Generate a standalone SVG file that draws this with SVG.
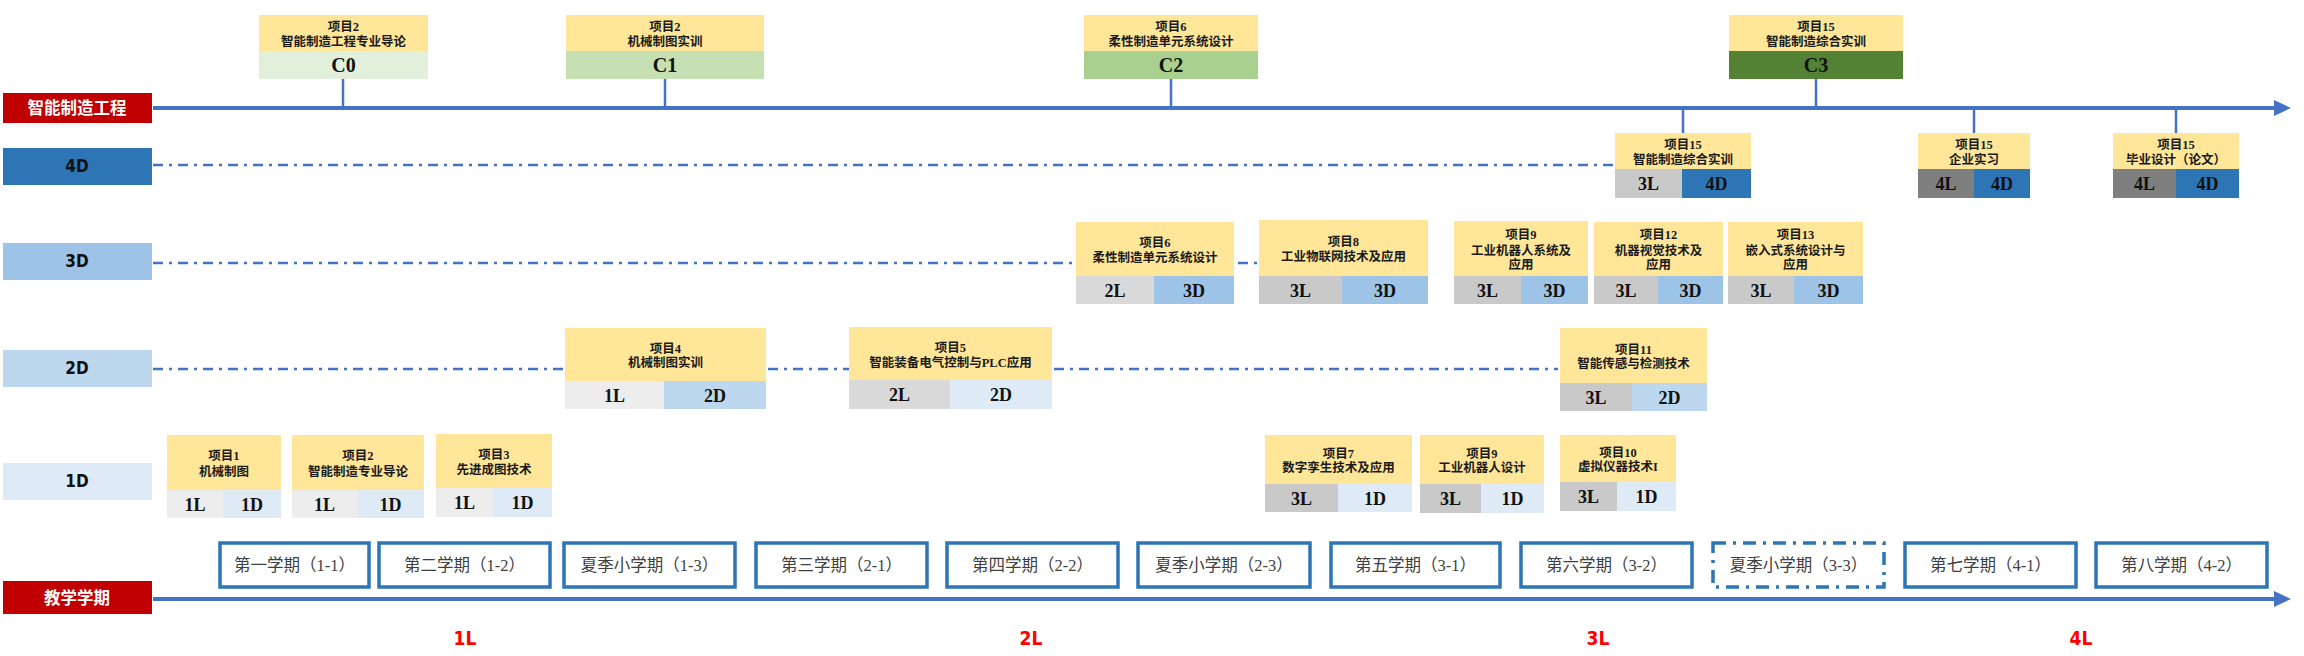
<svg xmlns="http://www.w3.org/2000/svg" width="2304" height="656" viewBox="0 0 2304 656">
<style>
.bg{fill:#ffffff}
.y{fill:#FFE699}
.c0{fill:#E2EFDA}.c1{fill:#C6E0B4}.c2{fill:#A9D08E}.c3{fill:#548235}
.l1{fill:#EDEDED}.l2{fill:#D9D9D9}.l3{fill:#C9C9C9}.l4{fill:#7F7F7F}
.d1{fill:#DEEBF7}.d2{fill:#BDD7EE}.d3{fill:#9DC3E6}.d4{fill:#2E75B6}
.red{fill:#C00000}
.t{font-family:"Liberation Serif","Noto Sans CJK SC",serif;font-weight:bold;font-size:12.5px;fill:#1a1a1a;text-anchor:middle}
.cell{font-family:"Liberation Serif","Noto Sans CJK SC",serif;font-weight:bold;font-size:18px;fill:#111;text-anchor:middle}
.cl{font-family:"Liberation Serif",serif;font-weight:bold;font-size:20px;fill:#111;text-anchor:middle}
.rl{font-family:"Liberation Sans Narrow","DejaVu Sans Condensed","Liberation Sans",sans-serif;font-weight:bold;font-size:17px;fill:#111;text-anchor:middle}
.wl{font-family:"Noto Sans CJK SC","Liberation Sans",sans-serif;font-weight:bold;font-size:16.5px;fill:#ffffff;text-anchor:middle}
.sem{fill:#ffffff;stroke:#2E75B6;stroke-width:3.5}
.semd{fill:#ffffff;stroke:#2E75B6;stroke-width:3.5;stroke-dasharray:13 7 3 7}
.st{font-family:"Liberation Serif","Noto Sans CJK SC",serif;font-size:16.5px;fill:#404040;text-anchor:middle}
.lv{font-family:"Liberation Sans Narrow","DejaVu Sans Condensed","Liberation Sans",sans-serif;font-weight:bold;font-size:19px;fill:#FF0000;text-anchor:middle}
.axis{stroke:#4472C4;stroke-width:4;fill:none}
.stem{stroke:#4472C4;stroke-width:2.5;fill:none}
.dash{stroke:#4472C4;stroke-width:2.5;fill:none;stroke-dasharray:10 6 3 6}
</style>
<defs>
<marker id="arr" markerWidth="18" markerHeight="16" refX="2" refY="8" orient="auto" markerUnits="userSpaceOnUse">
<path d="M0,0 L17,8 L0,16 z" fill="#4472C4"/>
</marker>
</defs>
<rect class="bg" x="0" y="0" width="2304" height="656"/>

<g id="connectors">
<line class="axis" x1="153" y1="108" x2="2276" y2="108" marker-end="url(#arr)"/>
<line class="axis" x1="153" y1="599" x2="2276" y2="599" marker-end="url(#arr)"/>
<line class="stem" x1="343" y1="79" x2="343" y2="108"/>
<line class="stem" x1="665" y1="79" x2="665" y2="108"/>
<line class="stem" x1="1171" y1="79" x2="1171" y2="108"/>
<line class="stem" x1="1816" y1="79" x2="1816" y2="108"/>
<line class="stem" x1="1683" y1="108" x2="1683" y2="133"/>
<line class="stem" x1="1974" y1="108" x2="1974" y2="133"/>
<line class="stem" x1="2176" y1="108" x2="2176" y2="133"/>
<line class="dash" x1="153" y1="165" x2="1615" y2="165"/>
<line class="dash" x1="153" y1="263" x2="1076" y2="263"/>
<line class="dash" x1="1238" y1="263" x2="1259" y2="263"/>
<line class="dash" x1="153" y1="369" x2="565" y2="369"/>
<line class="dash" x1="768" y1="369" x2="849" y2="369"/>
<line class="dash" x1="1054" y1="369" x2="1558" y2="369"/>
</g>

<g id="row-labels">
<g id="lbl-major"><rect class="red" x="3" y="93" width="149" height="30"/><text class="wl" x="77" y="114">智能制造工程</text></g>
<g id="lbl-4D"><rect class="d4" x="3" y="148" width="149" height="37"/><text class="rl" x="77" y="172">4D</text></g>
<g id="lbl-3D"><rect class="d3" x="3" y="243" width="149" height="37"/><text class="rl" x="77" y="267">3D</text></g>
<g id="lbl-2D"><rect class="d2" x="3" y="350" width="149" height="37"/><text class="rl" x="77" y="374">2D</text></g>
<g id="lbl-1D"><rect class="d1" x="3" y="463" width="149" height="37"/><text class="rl" x="77" y="487">1D</text></g>
<g id="lbl-term"><rect class="red" x="3" y="581" width="149" height="33"/><text class="wl" x="77" y="604">教学学期</text></g>
</g>

<g id="top-cards">
<g id="C0"><rect class="y" x="259" y="15" width="169" height="36"/><rect class="c0" x="259" y="51" width="169" height="28"/>
<text class="t" x="343.5" y="30.5">项目2</text><text class="t" x="343.5" y="46">智能制造工程专业导论</text><text class="cl" x="343.5" y="72">C0</text></g>
<g id="C1"><rect class="y" x="566" y="15" width="198" height="36"/><rect class="c1" x="566" y="51" width="198" height="28"/>
<text class="t" x="665" y="30.5">项目2</text><text class="t" x="665" y="46">机械制图实训</text><text class="cl" x="665" y="72">C1</text></g>
<g id="C2"><rect class="y" x="1084" y="15" width="174" height="36"/><rect class="c2" x="1084" y="51" width="174" height="28"/>
<text class="t" x="1171" y="30.5">项目6</text><text class="t" x="1171" y="46">柔性制造单元系统设计</text><text class="cl" x="1171" y="72">C2</text></g>
<g id="C3"><rect class="y" x="1729" y="15" width="174" height="36"/><rect class="c3" x="1729" y="51" width="174" height="28"/>
<text class="t" x="1816" y="30.5">项目15</text><text class="t" x="1816" y="46">智能制造综合实训</text><text class="cl" x="1816" y="72">C3</text></g>
</g>

<g id="cards-4D">
<g id="p15-a"><rect class="y" x="1615" y="133" width="136" height="36"/><rect class="l3" x="1615" y="169" width="67" height="29"/><rect class="d4" x="1682" y="169" width="69" height="29"/>
<text class="t" x="1683" y="149">项目15</text><text class="t" x="1683" y="164">智能制造综合实训</text><text class="cell" x="1648.5" y="190">3L</text><text class="cell" x="1716.5" y="190">4D</text></g>
<g id="p15-b"><rect class="y" x="1918" y="133" width="112" height="36"/><rect class="l4" x="1918" y="169" width="56" height="29"/><rect class="d4" x="1974" y="169" width="56" height="29"/>
<text class="t" x="1974" y="149">项目15</text><text class="t" x="1974" y="164">企业实习</text><text class="cell" x="1946" y="190">4L</text><text class="cell" x="2002" y="190">4D</text></g>
<g id="p15-c"><rect class="y" x="2113" y="133" width="126" height="36"/><rect class="l4" x="2113" y="169" width="63" height="29"/><rect class="d4" x="2176" y="169" width="63" height="29"/>
<text class="t" x="2176" y="149">项目15</text><text class="t" x="2176" y="164">毕业设计（论文）</text><text class="cell" x="2144.5" y="190">4L</text><text class="cell" x="2207.5" y="190">4D</text></g>
</g>

<g id="cards-3D">
<g id="p6"><rect class="y" x="1076" y="222" width="158" height="54"/><rect class="l2" x="1076" y="276" width="78" height="28"/><rect class="d3" x="1154" y="276" width="80" height="28"/>
<text class="t" x="1155" y="247">项目6</text><text class="t" x="1155" y="261.5">柔性制造单元系统设计</text><text class="cell" x="1115" y="296.5">2L</text><text class="cell" x="1194" y="296.5">3D</text></g>
<g id="p8"><rect class="y" x="1259" y="220" width="169" height="56"/><rect class="l3" x="1259" y="276" width="83" height="28"/><rect class="d3" x="1342" y="276" width="86" height="28"/>
<text class="t" x="1343.5" y="246">项目8</text><text class="t" x="1343.5" y="261">工业物联网技术及应用</text><text class="cell" x="1300.5" y="296.5">3L</text><text class="cell" x="1385" y="296.5">3D</text></g>
<g id="p9"><rect class="y" x="1454" y="221" width="134" height="55"/><rect class="l3" x="1454" y="276" width="67" height="28"/><rect class="d3" x="1521" y="276" width="67" height="28"/>
<text class="t" x="1521" y="239">项目9</text><text class="t" x="1521" y="255">工业机器人系统及</text><text class="t" x="1521" y="269">应用</text><text class="cell" x="1487.5" y="296.5">3L</text><text class="cell" x="1554.5" y="296.5">3D</text></g>
<g id="p12"><rect class="y" x="1594" y="222" width="129" height="54"/><rect class="l3" x="1594" y="276" width="64" height="28"/><rect class="d3" x="1658" y="276" width="65" height="28"/>
<text class="t" x="1658.5" y="239">项目12</text><text class="t" x="1658.5" y="255">机器视觉技术及</text><text class="t" x="1658.5" y="269">应用</text><text class="cell" x="1626" y="296.5">3L</text><text class="cell" x="1690.5" y="296.5">3D</text></g>
<g id="p13"><rect class="y" x="1728" y="222" width="135" height="54"/><rect class="l3" x="1728" y="276" width="66" height="28"/><rect class="d3" x="1794" y="276" width="69" height="28"/>
<text class="t" x="1795.5" y="239">项目13</text><text class="t" x="1795.5" y="255">嵌入式系统设计与</text><text class="t" x="1795.5" y="269">应用</text><text class="cell" x="1761" y="296.5">3L</text><text class="cell" x="1828.5" y="296.5">3D</text></g>
</g>

<g id="cards-2D">
<g id="p4"><rect class="y" x="565" y="328" width="201" height="53"/><rect class="l1" x="565" y="381" width="99" height="28"/><rect class="d2" x="664" y="381" width="102" height="28"/>
<text class="t" x="665.5" y="353">项目4</text><text class="t" x="665.5" y="367">机械制图实训</text><text class="cell" x="614.5" y="401.5">1L</text><text class="cell" x="715" y="401.5">2D</text></g>
<g id="p5"><rect class="y" x="849" y="327" width="203" height="53"/><rect class="l2" x="849" y="380" width="101" height="29"/><rect class="d1" x="950" y="380" width="102" height="29"/>
<text class="t" x="950.5" y="352">项目5</text><text class="t" x="950.5" y="366.5">智能装备电气控制与PLC应用</text><text class="cell" x="899.5" y="401">2L</text><text class="cell" x="1001" y="401">2D</text></g>
<g id="p11"><rect class="y" x="1560" y="328" width="147" height="55"/><rect class="l3" x="1560" y="383" width="72" height="28"/><rect class="d2" x="1632" y="383" width="75" height="28"/>
<text class="t" x="1633.5" y="353.5">项目11</text><text class="t" x="1633.5" y="368">智能传感与检测技术</text><text class="cell" x="1596" y="403.5">3L</text><text class="cell" x="1669.5" y="403.5">2D</text></g>
</g>

<g id="cards-1D">
<g id="p1"><rect class="y" x="167" y="435" width="114" height="55"/><rect class="l1" x="167" y="490" width="56" height="28"/><rect class="d1" x="223" y="490" width="58" height="28"/>
<text class="t" x="224" y="460">项目1</text><text class="t" x="224" y="475.5">机械制图</text><text class="cell" x="195" y="510.5">1L</text><text class="cell" x="252" y="510.5">1D</text></g>
<g id="p2"><rect class="y" x="292" y="435" width="132" height="55"/><rect class="l1" x="292" y="490" width="65" height="28"/><rect class="d1" x="357" y="490" width="67" height="28"/>
<text class="t" x="358" y="460">项目2</text><text class="t" x="358" y="475.5">智能制造专业导论</text><text class="cell" x="324.5" y="510.5">1L</text><text class="cell" x="390.5" y="510.5">1D</text></g>
<g id="p3"><rect class="y" x="436" y="434" width="116" height="54"/><rect class="l1" x="436" y="488" width="57" height="29"/><rect class="d1" x="493" y="488" width="59" height="29"/>
<text class="t" x="494" y="459">项目3</text><text class="t" x="494" y="474">先进成图技术</text><text class="cell" x="464.5" y="509">1L</text><text class="cell" x="522.5" y="509">1D</text></g>
<g id="p7"><rect class="y" x="1265" y="435" width="147" height="49"/><rect class="l3" x="1265" y="484" width="73" height="28"/><rect class="d1" x="1338" y="484" width="74" height="28"/>
<text class="t" x="1338.5" y="457.5">项目7</text><text class="t" x="1338.5" y="472">数字孪生技术及应用</text><text class="cell" x="1301.5" y="504.5">3L</text><text class="cell" x="1375" y="504.5">1D</text></g>
<g id="p9b"><rect class="y" x="1420" y="435" width="124" height="49"/><rect class="l3" x="1420" y="484" width="61" height="29"/><rect class="d1" x="1481" y="484" width="63" height="29"/>
<text class="t" x="1482" y="457.5">项目9</text><text class="t" x="1482" y="472">工业机器人设计</text><text class="cell" x="1450.5" y="505">3L</text><text class="cell" x="1512.5" y="505">1D</text></g>
<g id="p10"><rect class="y" x="1560" y="435" width="116" height="47"/><rect class="l3" x="1560" y="482" width="57" height="29"/><rect class="d1" x="1617" y="482" width="59" height="29"/>
<text class="t" x="1618" y="456.5">项目10</text><text class="t" x="1618" y="471">虚拟仪器技术I</text><text class="cell" x="1588.5" y="503">3L</text><text class="cell" x="1646.5" y="503">1D</text></g>
</g>

<g id="terms">
<g id="t11"><rect class="sem" x="220" y="543" width="149" height="44"/><text class="st" x="294.5" y="571">第一学期（1-1）</text></g>
<g id="t12"><rect class="sem" x="379" y="543" width="171" height="44"/><text class="st" x="464.5" y="571">第二学期（1-2）</text></g>
<g id="t13"><rect class="sem" x="564" y="543" width="171" height="44"/><text class="st" x="649.5" y="571">夏季小学期（1-3）</text></g>
<g id="t21"><rect class="sem" x="756" y="543" width="171" height="44"/><text class="st" x="841.5" y="571">第三学期（2-1）</text></g>
<g id="t22"><rect class="sem" x="947" y="543" width="171" height="44"/><text class="st" x="1032.5" y="571">第四学期（2-2）</text></g>
<g id="t23"><rect class="sem" x="1138" y="543" width="172" height="44"/><text class="st" x="1224" y="571">夏季小学期（2-3）</text></g>
<g id="t31"><rect class="sem" x="1331" y="543" width="169" height="44"/><text class="st" x="1415.5" y="571">第五学期（3-1）</text></g>
<g id="t32"><rect class="sem" x="1521" y="543" width="171" height="44"/><text class="st" x="1606.5" y="571">第六学期（3-2）</text></g>
<g id="t33"><rect class="semd" x="1713" y="543" width="171" height="44"/><text class="st" x="1798.5" y="571">夏季小学期（3-3）</text></g>
<g id="t41"><rect class="sem" x="1905" y="543" width="171" height="44"/><text class="st" x="1990.5" y="571">第七学期（4-1）</text></g>
<g id="t42"><rect class="sem" x="2096" y="543" width="171" height="44"/><text class="st" x="2181.5" y="571">第八学期（4-2）</text></g>
</g>

<g id="years">
<text class="lv" x="465" y="645">1L</text>
<text class="lv" x="1031" y="645">2L</text>
<text class="lv" x="1598" y="645">3L</text>
<text class="lv" x="2081" y="645">4L</text>
</g>
</svg>
